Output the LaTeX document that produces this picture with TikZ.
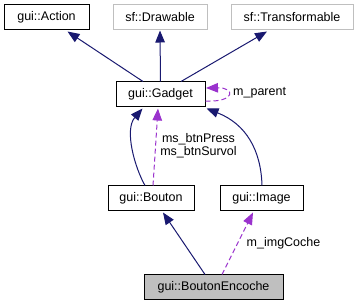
\documentclass[tikz,border=0pt]{standalone}
\usepackage{fontspec}
\setmainfont{Liberation Sans}
\usetikzlibrary{arrows.meta,calc}
\definecolor{inhcol}{HTML}{191970}
\definecolor{usecol}{HTML}{9A32CD}
\definecolor{extgray}{HTML}{BFBFBF}
\tikzset{
  cls/.style={draw=black, line width=1pt, fill=white, inner sep=0pt,
    minimum height=25pt, font=\fontsize{12.5}{14}\selectfont},
  extcls/.style={cls, draw=extgray},
  curcls/.style={cls, fill=extgray},
  inherit/.style={draw=inhcol, line width=1pt,
    -{Triangle[length=12pt,width=9.5pt,fill=inhcol]}},
  usage/.style={draw=usecol, line width=1pt, dash pattern=on 5pt off 3pt,
    -{Triangle[length=12pt,width=9.5pt,fill=usecol,sep=0pt]}},
  lbl/.style={inner sep=0pt, font=\fontsize{12.5}{13}\selectfont}
}
\begin{document}
\begin{tikzpicture}[x=1pt,y=-1pt]
\useasboundingbox (0,0) rectangle (359,307);

% classes
\node[cls,    minimum width=85pt]  (action)  at (46.5,17.5)  {gui::Action};
\node[extcls, minimum width=94pt]  (draw)    at (160,17.5)   {sf::Drawable};
\node[extcls, minimum width=122pt] (transf)  at (292,17.5)   {sf::Transformable};
\node[cls,    minimum width=89pt]  (gadget)  at (160.5,94.5) {gui::Gadget};
\node[cls,    minimum width=86pt]  (bouton)  at (151,198.5)  {gui::Bouton};
\node[cls,    minimum width=83pt]  (image)   at (261.5,198.5){gui::Image};
\node[curcls, minimum width=139pt] (enc)     at (213.5,287.5){gui::BoutonEncoche};

% inheritance
\draw[inherit] ($(gadget.north)+(-17.5,0)$) -- ($(action.south)+(21,1)$);
\draw[inherit] (gadget.north) -- (draw.south);
\draw[inherit] ($(gadget.north)+(20.5,0)$) -- ($(transf.south)+(-25,1)$);
\draw[inherit] ($(bouton.north)+(-6,0)$) .. controls (135,168) and (124,130) .. ($(gadget.south)+(-18,1)$);
\draw[inherit] ($(image.north)+(0.5,0)$) .. controls (261,150) and (246,124) .. ($(gadget.south east)+(1,1)$);
\draw[inherit] ($(enc.north)+(-8.5,0)$) -- ($(bouton.south)+(12,1)$);

% members
\draw[usage] ($(gadget.east)+(0,6.5)$) .. controls ($(gadget.east)+(30,8)$) and ($(gadget.east)+(30,-7)$) .. ($(gadget.east)+(0.5,-6.5)$);
\node[lbl, anchor=west] (lparent) at (233,93) {m\_parent};

\draw[usage] ($(bouton.north)+(2,0)$) -- ($(gadget.south)+(-2.5,1)$);
\node[lbl, align=center] (lbtn) at (198.5,145.5) {ms\_btnPress\\ms\_btnSurvol};

\draw[usage] ($(enc.north)+(8.5,0)$) -- ($(image.south)+(-8.5,1)$);
\node[lbl, anchor=west] (limg) at (246.5,243) {m\_imgCoche};
\end{tikzpicture}
\end{document}
